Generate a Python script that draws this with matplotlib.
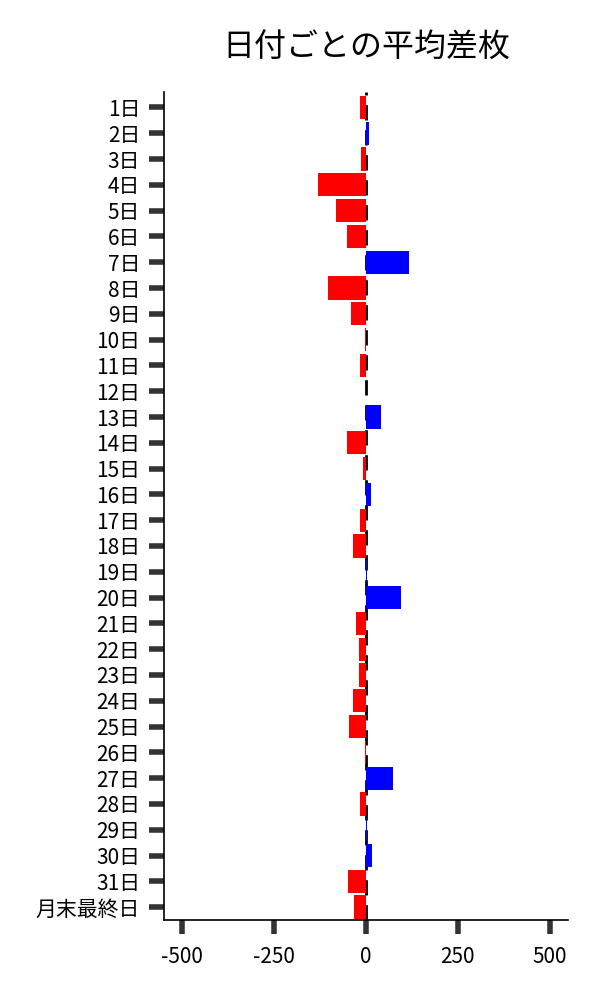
import matplotlib
matplotlib.use("Agg")
import matplotlib.pyplot as plt
import numpy as np

plt.rcParams["font.family"] = ["Noto Sans CJK JP", "DejaVu Sans"]
plt.rcParams["axes.unicode_minus"] = False

# 日付ごとの平均差枚
days = [f"{d}日" for d in range(1, 32)] + ["月末最終日"]
diffs = [-16, 7, -13, -130, -81, -51, 116, -103, -41, -3, -16, -1,
         40, -51, -8, 13, -16, -35, 2, 95, -27, -19, -19, -35, -46, -2,
         73, -16, 4, 15, -49, -32]
xticks = [-500, -250, 0, 250, 500]

fig = plt.figure(figsize=(6, 10), dpi=100)
ax = fig.add_axes([0.273, 0.08, 0.674, 0.828])

y = np.arange(len(days))
colors = ["blue" if v > 0 else "red" for v in diffs]
ax.axvline(0, color="black", linestyle=(0, (5.5, 3.5)), linewidth=2, zorder=1)
ax.barh(y, diffs, height=0.9, color=colors, zorder=2)

ax.set_yticks(y)
ax.set_yticklabels(days, fontsize=15)
ax.set_xticks(xticks)
ax.set_xticklabels([str(t) for t in xticks], fontsize=15)
ax.set_xlim(-550, 550)
ax.set_ylim(len(days) - 0.5, -0.6)

ax.spines["top"].set_visible(False)
ax.spines["right"].set_visible(False)
ax.spines["left"].set_linewidth(1.2)
ax.spines["bottom"].set_linewidth(1.2)
ax.tick_params(axis="y", length=11, width=4, color="#333333", pad=6)
ax.tick_params(axis="x", length=10, width=4, color="#333333", pad=9)

ax.set_title("日付ごとの平均差枚", fontsize=23, pad=25)

fig.savefig("out.png")
